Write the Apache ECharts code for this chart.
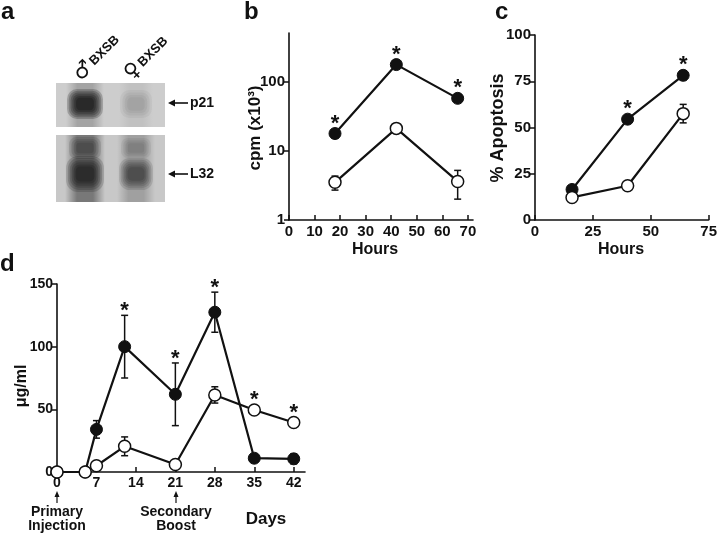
<!DOCTYPE html>
<html><head><meta charset="utf-8">
<script src="https://cdn.jsdelivr.net/npm/echarts@6/dist/echarts.min.js"></script>
<style>html,body{margin:0;padding:0;background:#fff}#c{width:720px;height:534px}</style>
</head><body><div id="c"></div>
<script>
// ---- panel b : cpm (x10^3) vs hours (log scale)
const bHours = [18, 42, 66];
const bMale = [17.7, 175, 57];
const bMaleErr = [2.5, 12, 4];
const bFemale = [3.5, 21, 3.6];
const bFemaleErr = [0.8, 2.5, 1.6];
const bMaleStar = [true, true, true];
const bFemaleStar = [false, false, false];
const bXTicks = [0, 10, 20, 30, 40, 50, 60, 70];
const bYTicks = [1, 10, 100];

// ---- panel c : % apoptosis vs hours
const cHours = [16, 40, 64];
const cMale = [16.5, 54.5, 78.2];
const cMaleErr = [1, 2, 2.5];
const cFemale = [12.2, 18.5, 57.5];
const cFemaleErr = [0.8, 1, 5];
const cMaleStar = [false, true, true];
const cFemaleStar = [false, false, false];

// ---- panel d : ug/ml vs days
const dDays = [0, 5, 7, 12, 21, 28, 35, 42];
const dMale = [0, 0, 34, 100, 62, 127.5, 11, 10.5];
const dMaleErr = [0, 0, 7, 25, 25, 16, 3, 4];
const dFemale = [0, 0, 5, 20.5, 6, 61.5, 49.5, 39.5];
const dFemaleErr = [0, 0, 2, 7.5, 1, 6.5, 1, 1];
const dMaleStar = [false, false, false, true, true, true, false, false];
const dFemaleStar = [false, false, false, false, false, false, true, true];
const dXTicks = [0, 7, 14, 21, 28, 35, 42];

const FONT = '"Liberation Sans", Arial, Helvetica, sans-serif';
const NARROW = '"Liberation Sans Narrow", "Liberation Sans", Arial, sans-serif';
const INK = '#111';

const chart = echarts.init(document.getElementById('c'), null, {renderer: 'canvas'});

function axisCommon(fs) {
  return {
    axisLine: {show: true, onZero: false, lineStyle: {color: INK, width: 1.6}},
    splitLine: {show: false},
    axisLabel: {color: INK, fontFamily: FONT, fontWeight: 'bold', fontSize: fs}
  };
}
function xAx(grid, min, max, ticks, fs) {
  const a = axisCommon(fs);
  a.gridIndex = grid; a.type = 'value'; a.min = min; a.max = max;
  a.axisTick = {inside: true, length: 5, lineStyle: {color: INK, width: 1.5}, customValues: ticks};
  a.axisLabel.margin = 4; a.axisLabel.customValues = ticks;
  return a;
}
function yAx(grid, type, min, max, interval, fs, ticks) {
  const a = axisCommon(fs);
  a.gridIndex = grid; a.type = type; a.min = min; a.max = max;
  if (interval) a.interval = interval;
  if (type === 'log') a.logBase = 10;
  a.axisTick = {inside: false, length: 5, lineStyle: {color: INK, width: 1.5}};
  a.axisLabel.margin = 4;
  if (ticks) { a.axisTick.customValues = ticks; a.axisLabel.customValues = ticks; }
  return a;
}

function lineSeries(ax, xs, ys, filled, z) {
  return {
    type: 'line', xAxisIndex: ax, yAxisIndex: ax, z: z, silent: true, animation: false,
    data: xs.map((x, i) => [x, ys[i]]),
    symbol: 'circle', symbolSize: 12,
    lineStyle: {color: INK, width: 2.2},
    itemStyle: filled ? {color: INK, borderColor: INK, borderWidth: 1}
                      : {color: '#fff', borderColor: INK, borderWidth: 1.5}
  };
}
function errSeries(ax, xs, ys, es) {
  return {
    type: 'custom', xAxisIndex: ax, yAxisIndex: ax, z: 2, silent: true, animation: false,
    encode: {x: 0, y: 1},
    data: xs.map((x, i) => [x, ys[i], es[i]]),
    renderItem: function (params, api) {
      const x = api.value(0), y = api.value(1), e = api.value(2);
      if (!e) return null;
      const t = api.coord([x, y + e]);
      const b = api.coord([x, Math.max(y - e, 1e-6)]);
      const st = {stroke: INK, lineWidth: 1.5};
      return {type: 'group', children: [
        {type: 'line', shape: {x1: t[0], y1: t[1], x2: b[0], y2: b[1]}, style: st},
        {type: 'line', shape: {x1: t[0] - 3.5, y1: t[1], x2: t[0] + 3.5, y2: t[1]}, style: st},
        {type: 'line', shape: {x1: b[0] - 3.5, y1: b[1], x2: b[0] + 3.5, y2: b[1]}, style: st}
      ]};
    }
  };
}
function starSeries(ax, xs, ys, es, flags) {
  const data = [];
  xs.forEach((x, i) => { if (flags[i]) data.push([x, ys[i], es[i]]); });
  return {
    type: 'custom', xAxisIndex: ax, yAxisIndex: ax, z: 6, silent: true, animation: false,
    encode: {x: 0, y: 1},
    data: data,
    renderItem: function (params, api) {
      const x = api.value(0), y = api.value(1), e = api.value(2);
      const p = api.coord([x, y]);
      const t = api.coord([x, y + e]);
      const top = Math.min(p[1] - 6, t[1]);
      return {type: 'text', x: p[0], y: top - 9 + 5,
        style: {text: '*', font: 'bold 22px ' + FONT, fill: INK, align: 'center', verticalAlign: 'middle'}};
    }
  };
}

// ---- gel drawing (panel a)
function band(cx, cy, w, h, alpha, layers) {
  const out = [];
  for (let k = 0; k < layers; k++) {
    const ww = w * (1 - 0.6 * k / layers), hh = h * (1 - 0.7 * k / layers);
    out.push({type: 'rect', silent: true,
      shape: {x: cx - ww / 2, y: cy - hh / 2, width: ww, height: hh, r: Math.min(ww, hh) / 3},
      style: {fill: 'rgba(0,0,0,' + alpha + ')'}});
  }
  return out;
}
function streak(cx, y0, w, h, alpha) {
  return {type: 'rect', silent: true, shape: {x: cx - w / 2, y: y0, width: w, height: h},
    style: {fill: new echarts.graphic.LinearGradient(0, 0, 1, 0, [
      {offset: 0, color: 'rgba(0,0,0,0)'}, {offset: 0.3, color: 'rgba(0,0,0,' + alpha + ')'},
      {offset: 0.7, color: 'rgba(0,0,0,' + alpha + ')'}, {offset: 1, color: 'rgba(0,0,0,0)'}])}};
}
const gel = [
  {type: 'rect', silent: true, shape: {x: 56, y: 83, width: 109, height: 44}, style: {fill: '#cdcdcd'}},
  {type: 'rect', silent: true, shape: {x: 56, y: 135, width: 109, height: 67}, style: {fill: '#c8c8c8'}},
  streak(85, 83, 38, 44, 0.2),
  ...band(85, 104, 36, 30, 0.2, 6),
  streak(136, 83, 34, 44, 0.06),
  ...band(136, 104, 32, 28, 0.04, 4),
  streak(85, 135, 40, 67, 0.4),
  ...band(85, 148, 32, 22, 0.1, 4),
  ...band(85, 174, 38, 36, 0.15, 6),
  streak(136, 135, 38, 67, 0.2),
  ...band(136, 148, 30, 20, 0.05, 4),
  ...band(136, 174, 34, 32, 0.11, 6)
];
function leftArrow(x1, x2, y) {
  return [
    {type: 'line', silent: true, shape: {x1: x1 + 4, y1: y, x2: x2, y2: y}, style: {stroke: INK, lineWidth: 1.6}},
    {type: 'polygon', silent: true, shape: {points: [[x1, y], [x1 + 7, y - 3.5], [x1 + 7, y + 3.5]]}, style: {fill: INK}}
  ];
}
function upArrow(x, y1, y2) {
  return [
    {type: 'line', silent: true, shape: {x1: x, y1: y1 + 4, x2: x, y2: y2}, style: {stroke: INK, lineWidth: 1.2}},
    {type: 'polygon', silent: true, shape: {points: [[x, y1], [x - 2.5, y1 + 6], [x + 2.5, y1 + 6]]}, style: {fill: INK}}
  ];
}
function txt(x, y, text, font, opts) {
  return Object.assign({type: 'text', silent: true, x: x, y: y,
    style: Object.assign({text: text, font: font, fill: INK, align: 'center', verticalAlign: 'middle'}, (opts && opts.style) || {})},
    (opts && opts.el) || {});
}

const graphics = [].concat(
  gel,
  leftArrow(168, 188, 103), leftArrow(168, 188, 174),
  upArrow(57, 491, 503), upArrow(176, 491, 503),
  [
    txt(190, 103, 'p21', 'bold 14px ' + FONT, {style: {align: 'left'}}),
    txt(190, 174, 'L32', 'bold 14px ' + FONT, {style: {align: 'left'}}),
    {type: 'text', silent: true, x: 77, y: 78, rotation: Math.PI / 4,
      style: {text: '{s|\u2642}{t|BXSB}', align: 'left', verticalAlign: 'middle', fill: INK,
        rich: {s: {font: '21px "DejaVu Sans"', fill: INK}, t: {font: 'bold 13px ' + FONT, fill: INK, padding: [0, 0, 0, 2]}}}},
    {type: 'text', silent: true, x: 128, y: 77, rotation: Math.PI / 4,
      style: {text: '{s|\u2640}{t|BXSB}', align: 'left', verticalAlign: 'middle', fill: INK,
        rich: {s: {font: '21px "DejaVu Sans"', fill: INK}, t: {font: 'bold 13px ' + FONT, fill: INK, padding: [0, 0, 0, 2]}}}},
    txt(1, 12, 'a', 'bold 24px ' + FONT, {style: {align: 'left'}}),
    txt(244, 12, 'b', 'bold 24px ' + FONT, {style: {align: 'left'}}),
    txt(495, 12, 'c', 'bold 24px ' + FONT, {style: {align: 'left'}}),
    txt(0, 264, 'd', 'bold 24px ' + FONT, {style: {align: 'left'}}),
    txt(255, 128, 'cpm (x10\u00b3)', 'bold 17px ' + FONT, {el: {rotation: Math.PI / 2}}),
    txt(498, 128, '% Apoptosis', 'bold 18px ' + FONT, {el: {rotation: Math.PI / 2}}),
    txt(22, 386, '\u03bcg/ml', 'bold 16px ' + FONT, {el: {rotation: Math.PI / 2}}),
    txt(375, 250, 'Hours', 'bold 16px ' + FONT),
    txt(621, 250, 'Hours', 'bold 16px ' + FONT),
    txt(266, 519, 'Days', 'bold 17px ' + FONT),
    txt(57, 519, 'Primary\nInjection', 'bold 14px ' + NARROW, {style: {lineHeight: 14}}),
    txt(176, 519, 'Secondary\nBoost', 'bold 14px ' + NARROW, {style: {lineHeight: 14}})
  ]
);

const option = {
  animation: false,
  backgroundColor: '#fff',
  grid: [
    {left: 289, top: 33, width: 184, height: 187},
    {left: 535, top: 35, width: 177, height: 185},
    {left: 57, top: 284, width: 248, height: 188}
  ],
  xAxis: [
    xAx(0, 0, 72, bXTicks, 15),
    xAx(1, 0, 75, [0, 25, 50, 75], 15),
    xAx(2, 0, 44, dXTicks, 14)
  ],
  yAxis: [
    yAx(0, 'log', 1, 500, null, 15, bYTicks),
    yAx(1, 'value', 0, 100, 25, 15),
    yAx(2, 'value', 0, 150, 50, 14)
  ],
  series: [
    errSeries(0, bHours, bMale, bMaleErr),
    errSeries(0, bHours, bFemale, bFemaleErr),
    lineSeries(0, bHours, bMale, true, 3),
    lineSeries(0, bHours, bFemale, false, 4),
    starSeries(0, bHours, bMale, bMaleErr, bMaleStar),
    starSeries(0, bHours, bFemale, bFemaleErr, bFemaleStar),

    errSeries(1, cHours, cMale, cMaleErr),
    errSeries(1, cHours, cFemale, cFemaleErr),
    lineSeries(1, cHours, cMale, true, 3),
    lineSeries(1, cHours, cFemale, false, 4),
    starSeries(1, cHours, cMale, cMaleErr, cMaleStar),
    starSeries(1, cHours, cFemale, cFemaleErr, cFemaleStar),

    errSeries(2, dDays, dMale, dMaleErr),
    errSeries(2, dDays, dFemale, dFemaleErr),
    lineSeries(2, dDays, dMale, true, 3),
    lineSeries(2, dDays, dFemale, false, 4),
    starSeries(2, dDays, dMale, dMaleErr, dMaleStar),
    starSeries(2, dDays, dFemale, dFemaleErr, dFemaleStar)
  ],
  graphic: graphics
};
chart.setOption(option);
</script>
</body></html>
